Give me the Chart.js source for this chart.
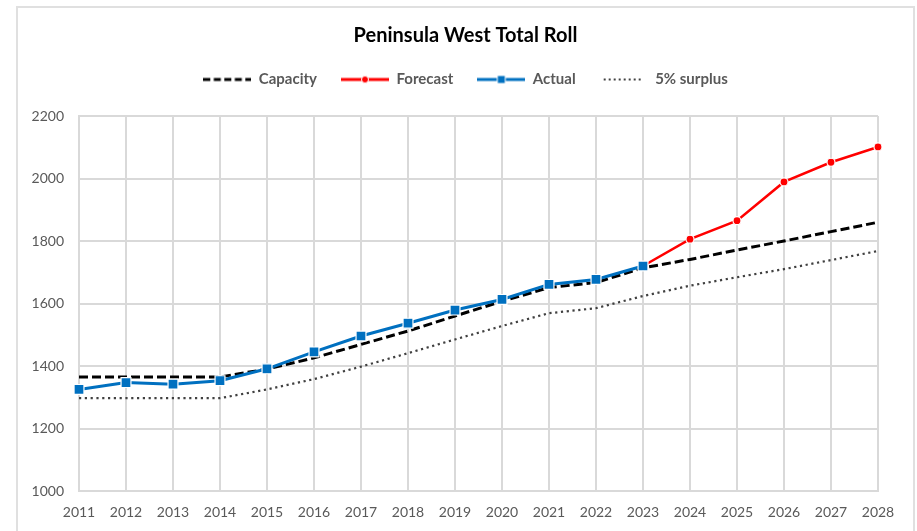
<!DOCTYPE html>
<html>
<head>
<meta charset="utf-8">
<title>Peninsula West Total Roll</title>
<script src="https://cdn.jsdelivr.net/npm/chart.js@4.4.1/dist/chart.umd.min.js"></script>
<style>
  html, body { margin: 0; padding: 0; background: #fff; }
  #wrap { position: relative; width: 917px; height: 531px; overflow: hidden; }
  #frame {
    position: absolute; left: 16px; top: 6px; width: 899px; height: 560px;
    border: 2px solid #e0e0e0; box-sizing: border-box;
  }
  #chart { position: absolute; left: 0; top: 0; }
</style>
</head>
<body>
<div id="wrap">
  <div id="frame"></div>
  <canvas id="chart" width="917" height="531"></canvas>
</div>
<script>
// data
const years = ["2011", "2012", "2013", "2014", "2015", "2016", "2017", "2018", "2019",
  "2020", "2021", "2022", "2023", "2024", "2025", "2026", "2027", "2028"];

const capacity = [1365, 1365, 1365, 1365, 1390, 1426, 1469, 1512, 1560,
  1607, 1651, 1667, 1714, 1741, 1771, 1800, 1830, 1860];

const forecast = [null, null, null, null, null, null, null, null, null,
  null, null, null, 1720, 1806, 1865, 1989, 2052, 2101];

const actual = [1325, 1347, 1342, 1353, 1391, 1445, 1496, 1537, 1579,
  1613, 1661, 1677, 1720, null, null, null, null, null];

const surplus = [1297, 1297, 1297, 1297, 1325, 1358, 1398, 1441, 1485,
  1528, 1569, 1585, 1624, 1657, 1684, 1710, 1739, 1768];

const yTicks = { min: 1000, max: 2200, step: 200 };

const BLUE = "#0070c0";
const RED = "#ff0000";
const GREY = "#404040";
const GRID = "#d9d9d9";
const TEXT = "#595959";

Chart.defaults.font.family = "Lato, 'Open Sans', sans-serif";

// little line samples for the legend, drawn like the excel ones
const sample = (kind) => {
  const c = document.createElement("canvas");
  c.width = 48;
  c.height = 12;
  const g = c.getContext("2d");
  const y = 6;
  g.lineWidth = 3;
  if (kind === "capacity") {
    g.strokeStyle = "#000";
    g.setLineDash([7, 3.5]);
  } else if (kind === "forecast") {
    g.strokeStyle = RED;
  } else if (kind === "actual") {
    g.strokeStyle = BLUE;
  } else {
    g.strokeStyle = GREY;
    g.lineWidth = 2;
    g.setLineDash([2, 3]);
  }
  g.beginPath();
  g.moveTo(kind === "surplus" ? 4 : 0, y);
  g.lineTo(kind === "surplus" ? 44 : 48, y);
  g.stroke();
  g.setLineDash([]);
  if (kind === "forecast") {
    g.fillStyle = RED;
    g.strokeStyle = "#fff";
    g.lineWidth = 1;
    g.beginPath();
    g.arc(24, y, 3.5, 0, Math.PI * 2);
    g.fill();
    g.stroke();
  }
  if (kind === "actual") {
    g.fillStyle = BLUE;
    g.strokeStyle = "#fff";
    g.lineWidth = 1;
    g.fillRect(20, y - 4, 8, 8);
    g.strokeRect(20, y - 4, 8, 8);
  }
  return c;
};

const samples = {
  Capacity: sample("capacity"),
  Forecast: sample("forecast"),
  Actual: sample("actual"),
  "5% surplus": sample("surplus"),
};

new Chart(document.getElementById("chart"), {
  type: "line",
  data: {
    labels: years,
    datasets: [
      {
        label: "Capacity",
        data: capacity,
        borderColor: "#000",
        borderWidth: 3,
        borderDash: [9, 4],
        pointRadius: 0,
        order: 2,
      },
      {
        label: "Forecast",
        data: forecast,
        borderColor: RED,
        backgroundColor: RED,
        borderWidth: 2.5,
        pointRadius: 4,
        pointBorderColor: "#fff",
        pointBorderWidth: 1.2,
        pointBackgroundColor: RED,
        order: 1,
      },
      {
        label: "Actual",
        data: actual,
        borderColor: BLUE,
        backgroundColor: BLUE,
        borderWidth: 3,
        pointStyle: "rect",
        pointRadius: 7,
        pointBorderColor: "#fff",
        pointBorderWidth: 1.2,
        pointBackgroundColor: BLUE,
        order: 0,
      },
      {
        label: "5% surplus",
        data: surplus,
        borderColor: GREY,
        borderWidth: 2.2,
        borderDash: [2.2, 3.6],
        pointRadius: 0,
        order: 3,
      },
    ],
  },
  options: {
    responsive: false,
    animation: false,
    layout: { padding: { left: 16, right: 2, top: 0, bottom: 0 } },
    elements: { line: { tension: 0 } },
    plugins: {
      tooltip: { enabled: false },
      title: {
        display: true,
        text: "Peninsula West Total Roll",
        color: "#000",
        font: { size: 20, weight: "bold" },
        padding: { top: 24, bottom: 0 },
      },
      legend: {
        position: "top",
        labels: {
          usePointStyle: true,
          pointStyleWidth: 48,
          padding: 24,
          color: TEXT,
          font: { size: 15, weight: "bold" },
          generateLabels: (chart) =>
            chart.data.datasets.map((ds, i) => ({
              text: ds.label,
              pointStyle: samples[ds.label],
              fontColor: TEXT,
              datasetIndex: i,
              hidden: false,
              lineWidth: 0,
            })),
        },
      },
    },
    scales: {
      // empty spacer between the legend and the plot
      gap: {
        type: "category",
        position: "top",
        grid: { display: false },
        border: { display: false },
        ticks: { display: false },
        afterFit: (s) => {
          s.height = 0;
        },
      },
      x: {
        offset: false,
        grid: { color: GRID, lineWidth: 2, drawTicks: false },
        border: { color: GRID, width: 2 },
        ticks: {
          color: TEXT,
          font: { size: 14 },
          padding: 13,
          autoSkip: false,
          maxRotation: 0,
        },
        afterFit: (s) => {
          s.height = 40;
          s.paddingRight = 39;
        },
      },
      y: {
        min: yTicks.min,
        max: yTicks.max,
        grid: { color: GRID, lineWidth: 2, drawTicks: false },
        border: { color: GRID, width: 2 },
        ticks: {
          stepSize: yTicks.step,
          color: TEXT,
          font: { size: 14 },
          padding: 15,
          callback: (v) => String(v),
        },
        afterFit: (s) => {
          s.width = 63;
        },
      },
    },
  },
  plugins: [
    {
      // size the spacer so the plot starts where the reference's does
      id: "gapFit",
      beforeLayout: (chart) => {
        const t = chart.titleBlock;
        const l = chart.legend;
        if (!t || !l) return;
        chart.options.scales.gap.afterFit = (s) => {
          s.height = Math.max(0, 116 - (t.height + l.height));
        };
      },
    },
  ],
});
</script>
</body>
</html>
